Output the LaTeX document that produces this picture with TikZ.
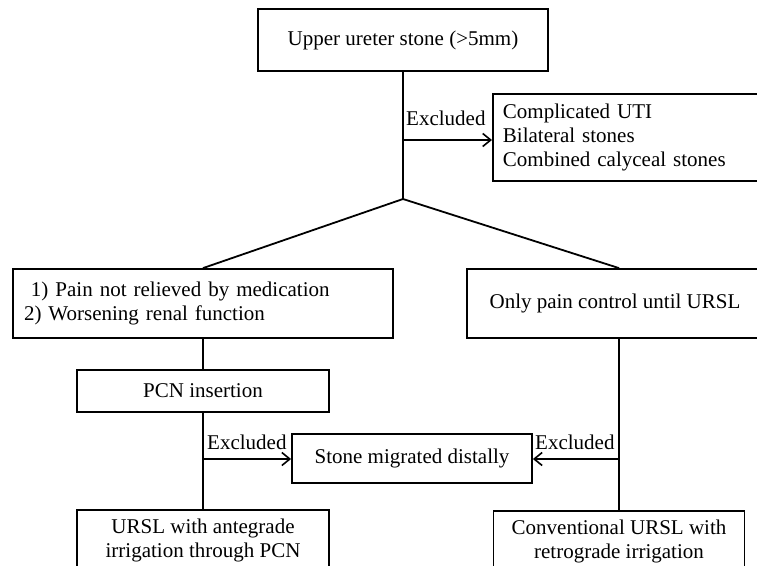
\documentclass[tikz,border=0pt]{standalone}
\usepackage{fontspec}
\setmainfont{Liberation Serif}
\usetikzlibrary{arrows.meta,calc}
\begin{document}
\begin{tikzpicture}[x=1pt,y=-1pt,
  every node/.style={font=\fontsize{21}{24}\selectfont},
  box/.style={draw, line width=1.8pt, rectangle, inner sep=0pt},
  conn/.style={line width=1.8pt},
  arr/.style={line width=1.8pt, -{Straight Barb[length=8pt,width=13pt,line width=1.6pt]}},
  lab/.style={anchor=base west, inner sep=0pt}
]
\useasboundingbox (0,0) rectangle (757,565);
\clip (0,0) rectangle (757,565);

\node[box, minimum width=290pt, minimum height=62pt] (top) at (403,40) {Upper ureter stone (>5mm)};
\node[box, minimum width=290pt, minimum height=87pt, align=left, text width=270pt, inner xsep=10pt, anchor=north west] (excl) at (492,93)
  {Complicated UTI\\Bilateral stones\\Combined calyceal stones};
\node[box, minimum width=380pt, minimum height=69pt, align=left, text width=358pt, inner xsep=11pt] (left) at (203,303.5)
  {\ 1) Pain not relieved by medication\\2) Worsening renal function};
\node[box, minimum width=304pt, minimum height=69pt] (right) at (619,303.5) {\hspace*{-8pt}Only pain control until URSL};
\node[box, minimum width=252pt, minimum height=42pt] (pcn) at (203,391) {PCN insertion};
\node[box, minimum width=240pt, minimum height=49pt] (stone) at (412,458.5) {Stone migrated distally};
\node[box, minimum width=252pt, minimum height=60pt, align=center] (bl) at (203,540)
  {URSL with antegrade\\irrigation through PCN};
\node[box, minimum width=251pt, minimum height=60pt, align=center] (br) at (619,541)
  {Conventional URSL with\\retrograde irrigation};

\coordinate (junc) at (403,199);
\coordinate (ex1) at (403,140);
\coordinate (ex2) at (203,459);
\coordinate (ex3) at (619,459);

\draw[conn] (top.south) -- (junc);
\draw[conn] (junc) -- (left.north);
\draw[conn] (junc) -- (right.north);
\draw[arr] (ex1) -- (ex1 -| excl.west);
\draw[conn] (left.south) -- (pcn.north);
\draw[conn] (pcn.south) -- (bl.north);
\draw[conn] (right.south) -- (br.north);
\draw[arr] (ex2) -- (ex2 -| stone.west);
\draw[arr] (ex3) -- (ex3 -| stone.east);

\node[lab] (l1) at (406,125) {Excluded};
\node[lab] (l2) at (207,449) {Excluded};
\node[lab] (l3) at (535,449) {Excluded};
\end{tikzpicture}
\end{document}
